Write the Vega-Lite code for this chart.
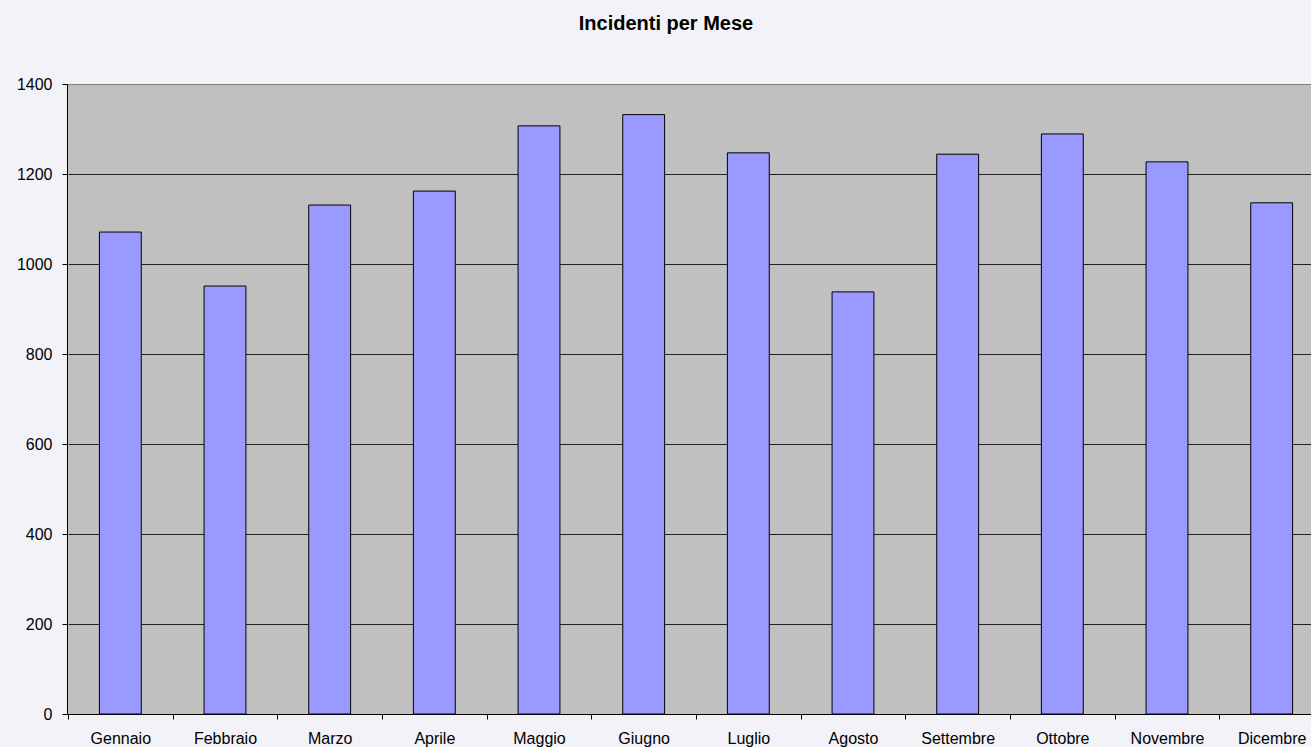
{
  "$schema": "https://vega.github.io/schema/vega-lite/v6.json",
  "width": 1244,
  "height": 630,
  "autosize": {"type": "none"},
  "padding": {"left": 67, "top": 84, "right": 0, "bottom": 33},
  "background": "#F2F2F8",
  "title": {
    "text": "Incidenti per Mese",
    "font": "Liberation Sans",
    "fontSize": 20,
    "fontWeight": "bold",
    "color": "#000000",
    "anchor": "middle",
    "frame": "group",
    "dx": -23,
    "offset": 42
  },
  "data": {
    "values": [
      {"mese": "Gennaio", "incidenti": 1071},
      {"mese": "Febbraio", "incidenti": 951},
      {"mese": "Marzo", "incidenti": 1131},
      {"mese": "Aprile", "incidenti": 1162},
      {"mese": "Maggio", "incidenti": 1307},
      {"mese": "Giugno", "incidenti": 1332},
      {"mese": "Luglio", "incidenti": 1247},
      {"mese": "Agosto", "incidenti": 938},
      {"mese": "Settembre", "incidenti": 1244},
      {"mese": "Ottobre", "incidenti": 1289},
      {"mese": "Novembre", "incidenti": 1227},
      {"mese": "Dicembre", "incidenti": 1136}
    ]
  },
  "mark": {"type": "bar", "fill": "#9999FF", "stroke": "#000000", "strokeWidth": 1},
  "encoding": {
    "x": {
      "field": "mese",
      "type": "nominal",
      "sort": null,
      "scale": {"range": [1, 1257], "paddingInner": 0.6, "paddingOuter": 0.3},
      "axis": {
        "title": null,
        "labelAngle": 0,
        "tickOffset": -52.33,
        "labelOffset": 52.33,
        "grid": false,
        "domainColor": "#000000",
        "tickColor": "#000000",
        "tickSize": 5,
        "labelFont": "Liberation Sans",
        "labelFontSize": 16,
        "labelColor": "#000000",
        "labelPadding": 11
      }
    },
    "y": {
      "field": "incidenti",
      "type": "quantitative",
      "scale": {"domain": [0, 1400], "nice": false},
      "axis": {
        "title": null,
        "format": "d",
        "values": [0, 200, 400, 600, 800, 1000, 1200, 1400],
        "grid": true,
        "gridColor": {"condition": {"test": "datum.value == 1400", "value": "#808080"}, "value": "#222222"},
        "domainColor": "#000000",
        "tickColor": "#000000",
        "tickSize": 5,
        "labelFont": "Liberation Sans",
        "labelFontSize": 16,
        "labelColor": "#000000",
        "labelPadding": 10
      }
    }
  },
  "config": {
    "view": {"fill": "#C0C0C0", "stroke": "#808080"}
  }
}
